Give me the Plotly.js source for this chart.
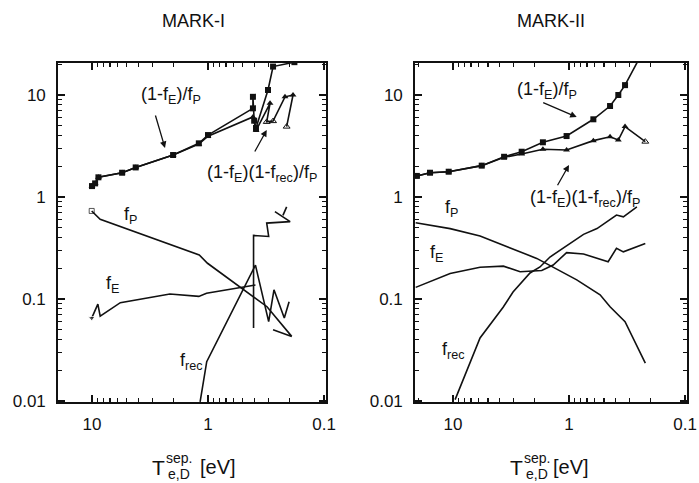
<!DOCTYPE html>
<html>
<head>
<meta charset="utf-8">
<script src="https://cdn.plot.ly/plotly-3.0.1.min.js"></script>
<style>html,body{margin:0;padding:0;background:#fff;}#chart{width:699px;height:483px;}</style>
</head>
<body>
<div id="chart"></div>
<script>
// ---------- MARK-I data (T_e,D^sep [eV], value) ----------
const m1RatioT   = [10.0, 9.4, 8.8, 5.5, 4.2, 2.0, 1.2, 1.0, 0.41, 0.41, 0.40, 0.386, 0.304, 0.275, 0.18];
const m1RatioV   = [1.28, 1.36, 1.56, 1.73, 1.95, 2.58, 3.36, 4.05, 7.4, 9.6, 5.6, 4.75, 11.2, 19.0, 21.0];
const m1RatioRecT = [10.0, 9.4, 8.8, 5.5, 4.2, 2.0, 1.2, 1.0, 0.41, 0.385, 0.292, 0.312, 0.275, 0.217, 0.185, 0.21];
const m1RatioRecV = [1.28, 1.36, 1.56, 1.73, 1.95, 2.58, 3.3, 3.95, 6.1, 4.5, 8.3, 5.45, 5.55, 9.6, 10.0, 4.9];
const m1fPT = [10.06, 8.5, 1.19, 1.01, 0.31, 0.19, 0.275];
const m1fPV = [0.73, 0.605, 0.27, 0.224, 0.084, 0.043, 0.05];
const m1fET = [10.06, 8.9, 8.5, 5.7, 2.13, 1.2, 1.03, 0.5, 0.39];
const m1fEV = [0.065, 0.089, 0.068, 0.092, 0.112, 0.106, 0.114, 0.13, 0.137];
const m1fRecT = [1.17, 1.026, 0.39, 0.30, 0.27, 0.22, 0.20, null, 0.405, 0.405, 0.30, 0.312, 0.196, 0.265, null, 0.226, 0.21];
const m1fRecV = [0.0098, 0.0243, 0.215, 0.06, 0.123, 0.065, 0.094, null, 0.052, 0.42, 0.41, 0.555, 0.573, 0.72, null, 0.66, 0.80];

// ---------- MARK-II data ----------
const m2RatioT = [20.5, 15.8, 10.9, 5.66, 3.63, 2.56, 1.68, 1.05, 0.617, 0.443, 0.376, 0.329, 0.24];
const m2RatioV = [1.61, 1.73, 1.77, 2.03, 2.48, 2.78, 3.44, 3.96, 5.78, 7.8, 10.0, 12.5, 24.5];
const m2RatioRecT = [20.5, 15.8, 10.9, 5.66, 3.63, 2.56, 1.68, 1.05, 0.617, 0.443, 0.376, 0.329, 0.22];
const m2RatioRecV = [1.61, 1.73, 1.77, 2.03, 2.45, 2.64, 2.94, 2.89, 3.57, 3.9, 3.62, 4.9, 3.49];
const m2fPT = [21, 10.6, 5.85, 3.68, 1.9, 0.858, 0.54, 0.443, 0.329, 0.22];
const m2fPV = [0.56, 0.49, 0.415, 0.338, 0.25, 0.154, 0.11, 0.084, 0.06, 0.0235];
const m2fET = [21, 10.6, 5.85, 3.68, 2.64, 1.72, 1.37, 1.05, 0.75, 0.46, 0.39, 0.34, 0.22];
const m2fEV = [0.13, 0.178, 0.205, 0.21, 0.185, 0.19, 0.215, 0.285, 0.276, 0.232, 0.314, 0.29, 0.35];
const m2fRecT = [9.6, 5.85, 3.7, 3.04, 2.17, 1.78, 1.46, 1.04, 0.75, 0.574, 0.39, 0.34, 0.26];
const m2fRecV = [0.0103, 0.0415, 0.083, 0.117, 0.18, 0.206, 0.258, 0.338, 0.43, 0.49, 0.666, 0.64, 0.80];

// ---------- ticks ----------
const yTickVals = [0.01, 0.1, 1, 10];
const yTickText = ['0.01', '0.1', '1', '10'];
const xTickVals = [0.1, 1, 10];
const xTickText = ['0.1', '1', '10'];
const minorVals = [];
[0.01, 0.1, 1, 10].forEach(d => { for (let k = 2; k <= 9; k++) minorVals.push(d * k); });

const INK = '#111111';
const FONT = 'Liberation Sans, Arial, sans-serif';
const W = 699, H = 483;
const px = (x) => x / W, py = (y) => 1 - y / H;

function line(x, y, xa, ya, extra) {
  return Object.assign({x: x, y: y, xaxis: xa, yaxis: ya, type: 'scatter', mode: 'lines',
    line: {color: INK, width: 1.6}, hoverinfo: 'skip', showlegend: false, connectgaps: false}, extra || {});
}

const traces = [
  line(m1RatioT, m1RatioV, 'x', 'y', {mode: 'lines+markers', marker: {symbol: 'square', size: 6, color: INK}}),
  line(m1RatioRecT, m1RatioRecV, 'x', 'y', {mode: 'lines+markers',
    marker: {symbol: m1RatioRecT.map((_, i) => (i === 11 || i === 12 || i === 15) ? 'triangle-up-open' : 'triangle-up'), size: 6, color: INK}}),
  line(m1fPT, m1fPV, 'x', 'y', {mode: 'lines+markers',
    marker: {symbol: 'square-open', size: m1fPT.map((_, i) => i === 0 ? 5 : 0), color: INK}}),
  line(m1fET, m1fEV, 'x', 'y', {mode: 'lines+markers',
    marker: {symbol: 'triangle-down', size: m1fET.map((_, i) => i === 0 ? 6 : 0), color: INK}}),
  line(m1fRecT, m1fRecV, 'x', 'y'),

  line(m2RatioT, m2RatioV, 'x2', 'y2', {mode: 'lines+markers', marker: {symbol: 'square', size: 6, color: INK}}),
  line(m2RatioRecT, m2RatioRecV, 'x2', 'y2', {mode: 'lines+markers',
    marker: {symbol: m2RatioRecT.map((_, i) => i === m2RatioRecT.length - 1 ? 'triangle-up-open' : 'triangle-up'), size: 6, color: INK}}),
  line(m2fPT, m2fPV, 'x2', 'y2'),
  line(m2fET, m2fEV, 'x2', 'y2'),
  line(m2fRecT, m2fRecV, 'x2', 'y2')
];

function xAxis(domain, range, anchor) {
  return {type: 'log', domain: domain, range: range, anchor: anchor,
    showline: true, linecolor: INK, linewidth: 1.8, mirror: 'allticks',
    ticks: 'inside', ticklen: 7, tickwidth: 1.3, tickcolor: INK,
    tickmode: 'array', tickvals: xTickVals, ticktext: xTickText,
    minor: {ticks: 'inside', ticklen: 4, tickwidth: 1.1, tickcolor: INK, tickmode: 'array', tickvals: minorVals, showgrid: false},
    showgrid: false, zeroline: false, ticklabelstandoff: 6,
    tickfont: {family: FONT, size: 17, color: INK}};
}
function yAxis(domain, anchor) {
  return {type: 'log', domain: domain, range: [-2.01, 1.314], anchor: anchor,
    showline: true, linecolor: INK, linewidth: 1.8, mirror: 'allticks',
    ticks: 'inside', ticklen: 7, tickwidth: 1.3, tickcolor: INK,
    tickmode: 'array', tickvals: yTickVals, ticktext: yTickText,
    minor: {ticks: 'inside', ticklen: 4, tickwidth: 1.1, tickcolor: INK, tickmode: 'array', tickvals: minorVals, showgrid: false},
    showgrid: false, zeroline: false, ticklabelstandoff: 7,
    tickfont: {family: FONT, size: 17, color: INK}};
}

const yDom = [py(402), py(63)];
function txt(x, y, text, size, xanchor) {
  return {xref: 'paper', yref: 'paper', x: px(x), y: py(y), text: text, showarrow: false,
    xanchor: xanchor || 'center', yanchor: 'middle', font: {family: FONT, size: size, color: INK}};
}
function arrow(hx, hy, tx, ty) {
  return {xref: 'paper', yref: 'paper', x: px(hx), y: py(hy), ax: tx - hx, ay: ty - hy,
    axref: 'pixel', ayref: 'pixel', text: '', showarrow: true, arrowhead: 2, arrowsize: 1,
    arrowwidth: 1.3, arrowcolor: INK};
}

const annotations = [
  txt(193, 21, 'MARK-I', 18),
  txt(551, 21, 'MARK-II', 18),
  // left panel labels
  txt(171, 96, '(1-f<sub>E</sub>)/f<sub>P</sub>', 18),
  arrow(165, 148, 155, 114),
  txt(262, 173, '(1-f<sub>E</sub>)(1-f<sub>rec</sub>)/f<sub>P</sub>', 18),
  arrow(266.7, 130, 254, 153),
  txt(130, 215, 'f<sub>P</sub>', 18),
  txt(112, 284, 'f<sub>E</sub>', 18),
  txt(191, 361, 'f<sub>rec</sub>', 18),
  // right panel labels
  txt(547, 90, '(1-f<sub>E</sub>)/f<sub>P</sub>', 18),
  arrow(576.7, 117, 541.7, 102),
  txt(585, 198, '(1-f<sub>E</sub>)(1-f<sub>rec</sub>)/f<sub>P</sub>', 18),
  arrow(569, 165, 556.7, 186.7),
  txt(451, 208, 'f<sub>P</sub>', 18),
  txt(436, 254, 'f<sub>E</sub>', 18),
  txt(454, 350, 'f<sub>rec</sub>', 18),
  // axis titles  T^{sep.}_{e,D} [eV]
  txt(150, 467, 'T', 21, 'left'),
  txt(164, 458, 'sep.', 14, 'left'),
  txt(165.5, 474, 'e,D', 14, 'left'),
  txt(198, 467, '[eV]', 20, 'left'),
  txt(508, 467, 'T', 21, 'left'),
  txt(522, 458, 'sep.', 14, 'left'),
  txt(523.5, 474, 'e,D', 14, 'left'),
  txt(551, 467, '[eV]', 20, 'left')
];

const layout = {
  width: W, height: H, margin: {l: 0, r: 0, t: 0, b: 0},
  paper_bgcolor: '#ffffff', plot_bgcolor: '#ffffff', showlegend: false,
  font: {family: FONT, color: INK},
  xaxis: xAxis([px(58), px(326)], [1.293, -1.017], 'y'),
  yaxis: yAxis(yDom, 'x'),
  xaxis2: xAxis([px(415), px(687)], [1.328, -1.017], 'y2'),
  yaxis2: yAxis(yDom, 'x2'),
  annotations: annotations
};

Plotly.newPlot('chart', traces, layout, {staticPlot: true, displayModeBar: false});
</script>
</body>
</html>
